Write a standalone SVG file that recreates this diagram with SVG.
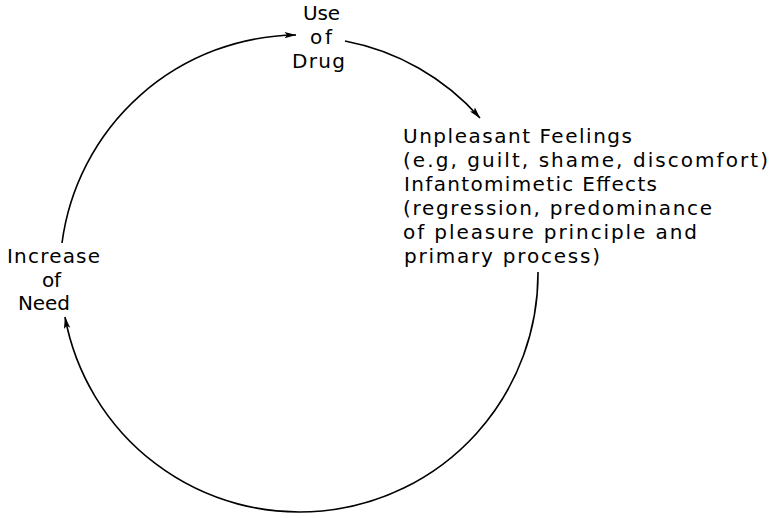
<svg xmlns="http://www.w3.org/2000/svg" width="783" height="518" viewBox="0 0 783 518">
<style>
text{font-family:"DejaVu Sans","Liberation Sans",sans-serif;font-size:20px;fill:#000}
.c{fill:none;stroke:#000;stroke-width:1.6}
</style>
<defs>
<marker id="ah" viewBox="0 0 12 8" refX="11.5" refY="4" markerWidth="12" markerHeight="8" markerUnits="userSpaceOnUse" orient="auto">
<path d="M0,0.8 L12,4 L0,7.2 L2.5,4 Z" fill="#000"/>
</marker>
</defs>
<g id="connectors">
<path class="c" d="M62,243 A239,239 0 0 1 296,35" marker-end="url(#ah)"/>
<path class="c" d="M345,41 A239,239 0 0 1 480,118" marker-end="url(#ah)"/>
<path class="c" d="M538,272 A238.5,238.5 0 0 1 65,317" marker-end="url(#ah)"/>
</g>
<g id="use-of-drug">
<text x="303" y="20" textLength="37" lengthAdjust="spacing">Use</text>
<text x="310" y="44" textLength="22" lengthAdjust="spacing">of</text>
<text x="292" y="68" textLength="53" lengthAdjust="spacing">Drug</text>
</g>
<g id="unpleasant-feelings">
<text x="403" y="143" textLength="229" lengthAdjust="spacing">Unpleasant Feelings</text>
<text x="403" y="167" textLength="365" lengthAdjust="spacing">(e.g, guilt, shame, discomfort)</text>
<text x="404" y="191" textLength="253" lengthAdjust="spacing">Infantomimetic Effects</text>
<text x="403" y="215" textLength="309" lengthAdjust="spacing">(regression, predominance</text>
<text x="403" y="239" textLength="294" lengthAdjust="spacing">of pleasure principle and</text>
<text x="404" y="263" textLength="196" lengthAdjust="spacing">primary process)</text>
</g>
<g id="increase-of-need">
<text x="7" y="263" textLength="93" lengthAdjust="spacing">Increase</text>
<text x="42" y="287" textLength="19" lengthAdjust="spacing">of</text>
<text x="18" y="310" textLength="52" lengthAdjust="spacing">Need</text>
</g>
</svg>
